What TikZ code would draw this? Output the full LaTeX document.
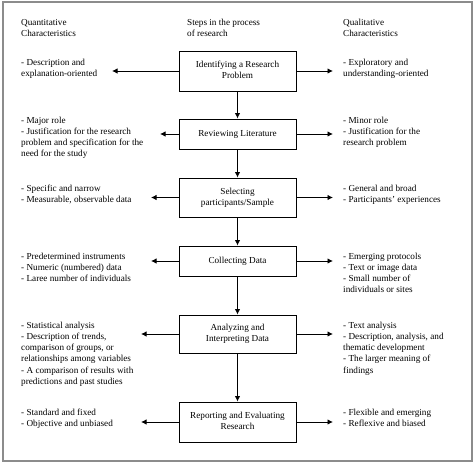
\documentclass[tikz,border=0pt]{standalone}
\usepackage{fontspec}
\setmainfont{Liberation Serif}
\usetikzlibrary{arrows.meta}
\definecolor{framegray}{RGB}{140,140,140}
\newcommand\mylines[1]{\begin{tabular}[t]{@{}l@{}}#1\end{tabular}}
\newcommand\mycent[1]{\begin{tabular}{@{}c@{}}#1\end{tabular}}
\begin{document}
\begin{tikzpicture}[x=1pt,y=-1pt,
  txt/.style={inner sep=0pt, anchor=base west, font=\fontsize{9.2}{11.3}\selectfont},
  stepbox/.style={draw, line width=0.9pt, minimum width=117pt, inner sep=0pt, font=\fontsize{9.2}{11.3}\selectfont},
  arr/.style={-{Latex[length=5.5pt,width=5.5pt]}, line width=0.9pt}]
\useasboundingbox (0,0) rectangle (474,463);
\draw[framegray, line width=2pt] (3,2) rectangle (471.5,461);
% headers
\node[txt] (hq) at (21,25) {\mylines{Quantitative\\Characteristics}};
\node[txt] (hs) at (187,25) {\mylines{Steps in the process\\of research}};
\node[txt] (hl) at (343,25) {\mylines{Qualitative\\Characteristics}};
% step boxes
\node[stepbox, minimum height=40pt] (b1) at (237.5,71) {\mycent{Identifying a Research\\Problem}};
\node[stepbox, minimum height=30pt] (b2) at (237.5,134) {\mycent{Reviewing Literature}};
\node[stepbox, minimum height=39pt] (b3) at (237.5,197.5) {\mycent{Selecting\\participants/Sample}};
\node[stepbox, minimum height=30pt] (b4) at (237.5,261) {\mycent{Collecting Data}};
\node[stepbox, minimum height=38pt] (b5) at (237.5,334) {\mycent{Analyzing and\\Interpreting Data}};
\node[stepbox, minimum height=40pt] (b6) at (237.5,422) {\mycent{Reporting and Evaluating\\Research}};
% vertical arrows
\draw[arr] (b1.south) -- (b2.north);
\draw[arr] (b2.south) -- (b3.north);
\draw[arr] (b3.south) -- (b4.north);
\draw[arr] (b4.south) -- (b5.north);
\draw[arr] (b5.south) -- (b6.north);
% arrow ends
\coordinate (L1) at (112,71);   \coordinate (R1) at (333,71);
\coordinate (L2) at (160,134);  \coordinate (R2) at (333,134);
\coordinate (L3) at (151,197.5);\coordinate (R3) at (333,197.5);
\coordinate (L4) at (151,261);  \coordinate (R4) at (333,261);
\coordinate (L5) at (141,334);  \coordinate (R5) at (333,334);
\coordinate (L6) at (141,422);  \coordinate (R6) at (333,422);
\foreach \i in {1,...,6}{
  \draw[arr] (b\i.west) -- (L\i);
  \draw[arr] (b\i.east) -- (R\i);
}
% left texts
\node[txt] (q1) at (21,65) {\mylines{- Description and\\explanation-oriented}};
\node[txt] (q2) at (21,123) {\mylines{- Major role\\- Justification for the research\\problem and specification for the\\need for the study}};
\node[txt] (q3) at (21,191) {\mylines{- Specific and narrow\\- Measurable, observable data}};
\node[txt] (q4) at (21,259) {\mylines{- Predetermined instruments\\- Numeric (numbered) data\\- Laree number of individuals}};
\node[txt] (q5) at (21,328) {\mylines{- Statistical analysis\\- Description of trends,\\comparison of groups, or\\relationships among variables\\- A comparison of results with\\predictions and past studies}};
\node[txt] (q6) at (21,415) {\mylines{- Standard and fixed\\- Objective and unbiased}};
% right texts
\node[txt] (l1) at (343,65) {\mylines{- Exploratory and\\understanding-oriented}};
\node[txt] (l2) at (343,123) {\mylines{- Minor role\\- Justification for the\\research problem}};
\node[txt] (l3) at (343,191) {\mylines{- General and broad\\- Participants' experiences}};
\node[txt] (l4) at (343,259) {\mylines{- Emerging protocols\\- Text or image data\\- Small number of\\individuals or sites}};
\node[txt] (l5) at (343,328) {\mylines{- Text analysis\\- Description, analysis, and\\thematic development\\- The larger meaning of\\findings}};
\node[txt] (l6) at (343,415) {\mylines{- Flexible and emerging\\- Reflexive and biased}};
\end{tikzpicture}
\end{document}
